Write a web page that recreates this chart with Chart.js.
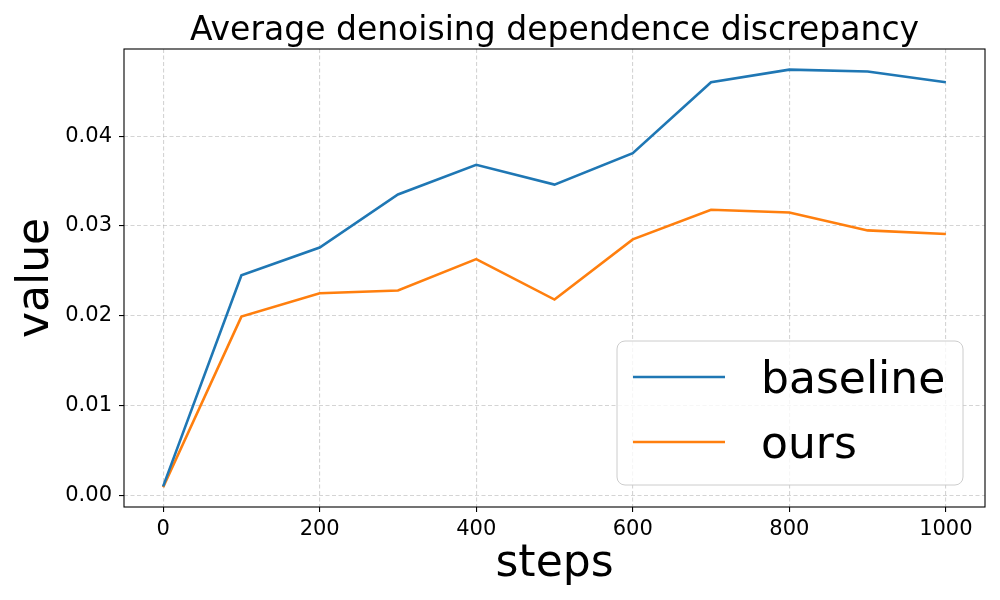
<!DOCTYPE html>
<html>
<head>
<meta charset="utf-8">
<script src="https://cdn.jsdelivr.net/npm/chart.js@4.4.1/dist/chart.umd.min.js"></script>
<style>
  html, body { margin: 0; padding: 0; background: #fff; }
  #wrap { width: 1000px; height: 600px; }
</style>
</head>
<body>
<div id="wrap"><canvas id="chart" width="1000" height="600"></canvas></div>
<script>
const steps = [0, 100, 200, 300, 400, 500, 600, 700, 800, 900, 1000]
const baseline = [0.0010, 0.0245, 0.0276, 0.0335, 0.0368, 0.0346, 0.0381, 0.0460, 0.0474, 0.0472, 0.0460]
const ours = [0.0009, 0.0199, 0.0225, 0.0228, 0.0263, 0.0218, 0.0285, 0.0318, 0.0315, 0.0295, 0.0291]
const xTicks = [0, 200, 400, 600, 800, 1000]
const yTicks = [0, 0.01, 0.02, 0.03, 0.04]
const chartTitle = 'Average denoising dependence discrepancy'

const FONT = 'DejaVu Sans'
const gridColor = 'rgba(176,176,176,0.55)'

function toPoints(ys){
  return steps.map((s, i) => ({x: s, y: ys[i]}))
}

// full box around the plot, like matplotlib spines
const frame = {
  id: 'frame',
  afterDatasetsDraw(chart){
    const {ctx, chartArea: a} = chart
    ctx.save()
    ctx.strokeStyle = '#000'
    ctx.lineWidth = 1.1
    ctx.strokeRect(a.left, a.top, a.right - a.left, a.bottom - a.top)
    ctx.restore()
  }
}

// title centred over the plot area, not the whole canvas
const plotTitle = {
  id: 'plotTitle',
  afterDraw(chart){
    const {ctx, chartArea: a} = chart
    ctx.save()
    ctx.fillStyle = '#000'
    ctx.font = '33px "' + FONT + '"'
    ctx.textAlign = 'center'
    ctx.textBaseline = 'alphabetic'
    ctx.fillText(chartTitle, (a.left + a.right) / 2, a.top - 8.6)
    ctx.restore()
  }
}

// legend box in the lower right corner of the plot
const boxLegend = {
  id: 'boxLegend',
  afterDraw(chart){
    const {ctx, chartArea: a} = chart
    const w = 346, h = 144
    const right = a.right - 22, bottom = a.bottom - 22
    const left = right - w, top = bottom - h
    ctx.save()
    ctx.beginPath()
    ctx.roundRect(left, top, w, h, 8)
    ctx.fillStyle = 'rgba(255,255,255,0.8)'
    ctx.fill()
    ctx.strokeStyle = '#cccccc'
    ctx.lineWidth = 1
    ctx.stroke()
    chart.data.datasets.forEach((ds, i) => {
      const ly = top + 36 + i * 65
      ctx.beginPath()
      ctx.moveTo(left + 16, ly)
      ctx.lineTo(left + 108, ly)
      ctx.strokeStyle = ds.borderColor
      ctx.lineWidth = 2.6
      ctx.stroke()
      ctx.fillStyle = '#000'
      ctx.font = '44px "' + FONT + '"'
      ctx.textBaseline = 'alphabetic'
      ctx.textAlign = 'left'
      ctx.fillText(ds.label, left + 144, top + 52 + i * 65)
    })
    ctx.restore()
  }
}

new Chart(document.getElementById('chart'), {
  type: 'line',
  data: {
    datasets: [
      { label: 'baseline', data: toPoints(baseline), borderColor: '#1f77b4', backgroundColor: '#1f77b4', borderWidth: 2.6 },
      { label: 'ours', data: toPoints(ours), borderColor: '#ff7f0e', backgroundColor: '#ff7f0e', borderWidth: 2.6 }
    ]
  },
  options: {
    responsive: false,
    devicePixelRatio: 1,
    animation: false,
    layout: { padding: { left: 0, right: 15, top: 49, bottom: 0 } },
    elements: { point: { radius: 0 }, line: { tension: 0 } },
    plugins: {
      legend: { display: false },
      tooltip: { enabled: false },
      title: { display: false }
    },
    scales: {
      x: {
        type: 'linear',
        min: -50,
        max: 1050,
        afterFit: (scale) => { scale.height = 93 },
        afterBuildTicks: (scale) => { scale.ticks = xTicks.map(v => ({value: v})) },
        ticks: {
          color: '#000',
          font: { family: FONT, size: 21 },
          padding: 5,
          maxRotation: 0,
          callback: (v) => String(v)
        },
        grid: {
          color: gridColor,
          lineWidth: 1.1,
          tickColor: '#000',
          tickLength: 5,
          tickWidth: 1.1
        },
        border: { display: false, dash: [4, 2.5] },
        title: {
          display: true,
          text: 'steps',
          color: '#000',
          font: { family: FONT, size: 44 },
          padding: { top: 0, bottom: 9 }
        }
      },
      y: {
        type: 'linear',
        min: -0.0013,
        max: 0.0497,
        afterFit: (scale) => { scale.width = 124 },
        afterBuildTicks: (scale) => { scale.ticks = yTicks.map(v => ({value: v})) },
        ticks: {
          color: '#000',
          font: { family: FONT, size: 21 },
          padding: 7,
          callback: (v) => v.toFixed(2)
        },
        grid: {
          color: gridColor,
          lineWidth: 1.1,
          tickColor: '#000',
          tickLength: 5,
          tickWidth: 1.1
        },
        border: { display: false, dash: [4, 2.5] },
        title: {
          display: true,
          text: 'value',
          color: '#000',
          font: { family: FONT, size: 44 },
          padding: { top: 10, bottom: 0 }
        }
      }
    }
  },
  plugins: [frame, plotTitle, boxLegend]
})
</script>
</body>
</html>
